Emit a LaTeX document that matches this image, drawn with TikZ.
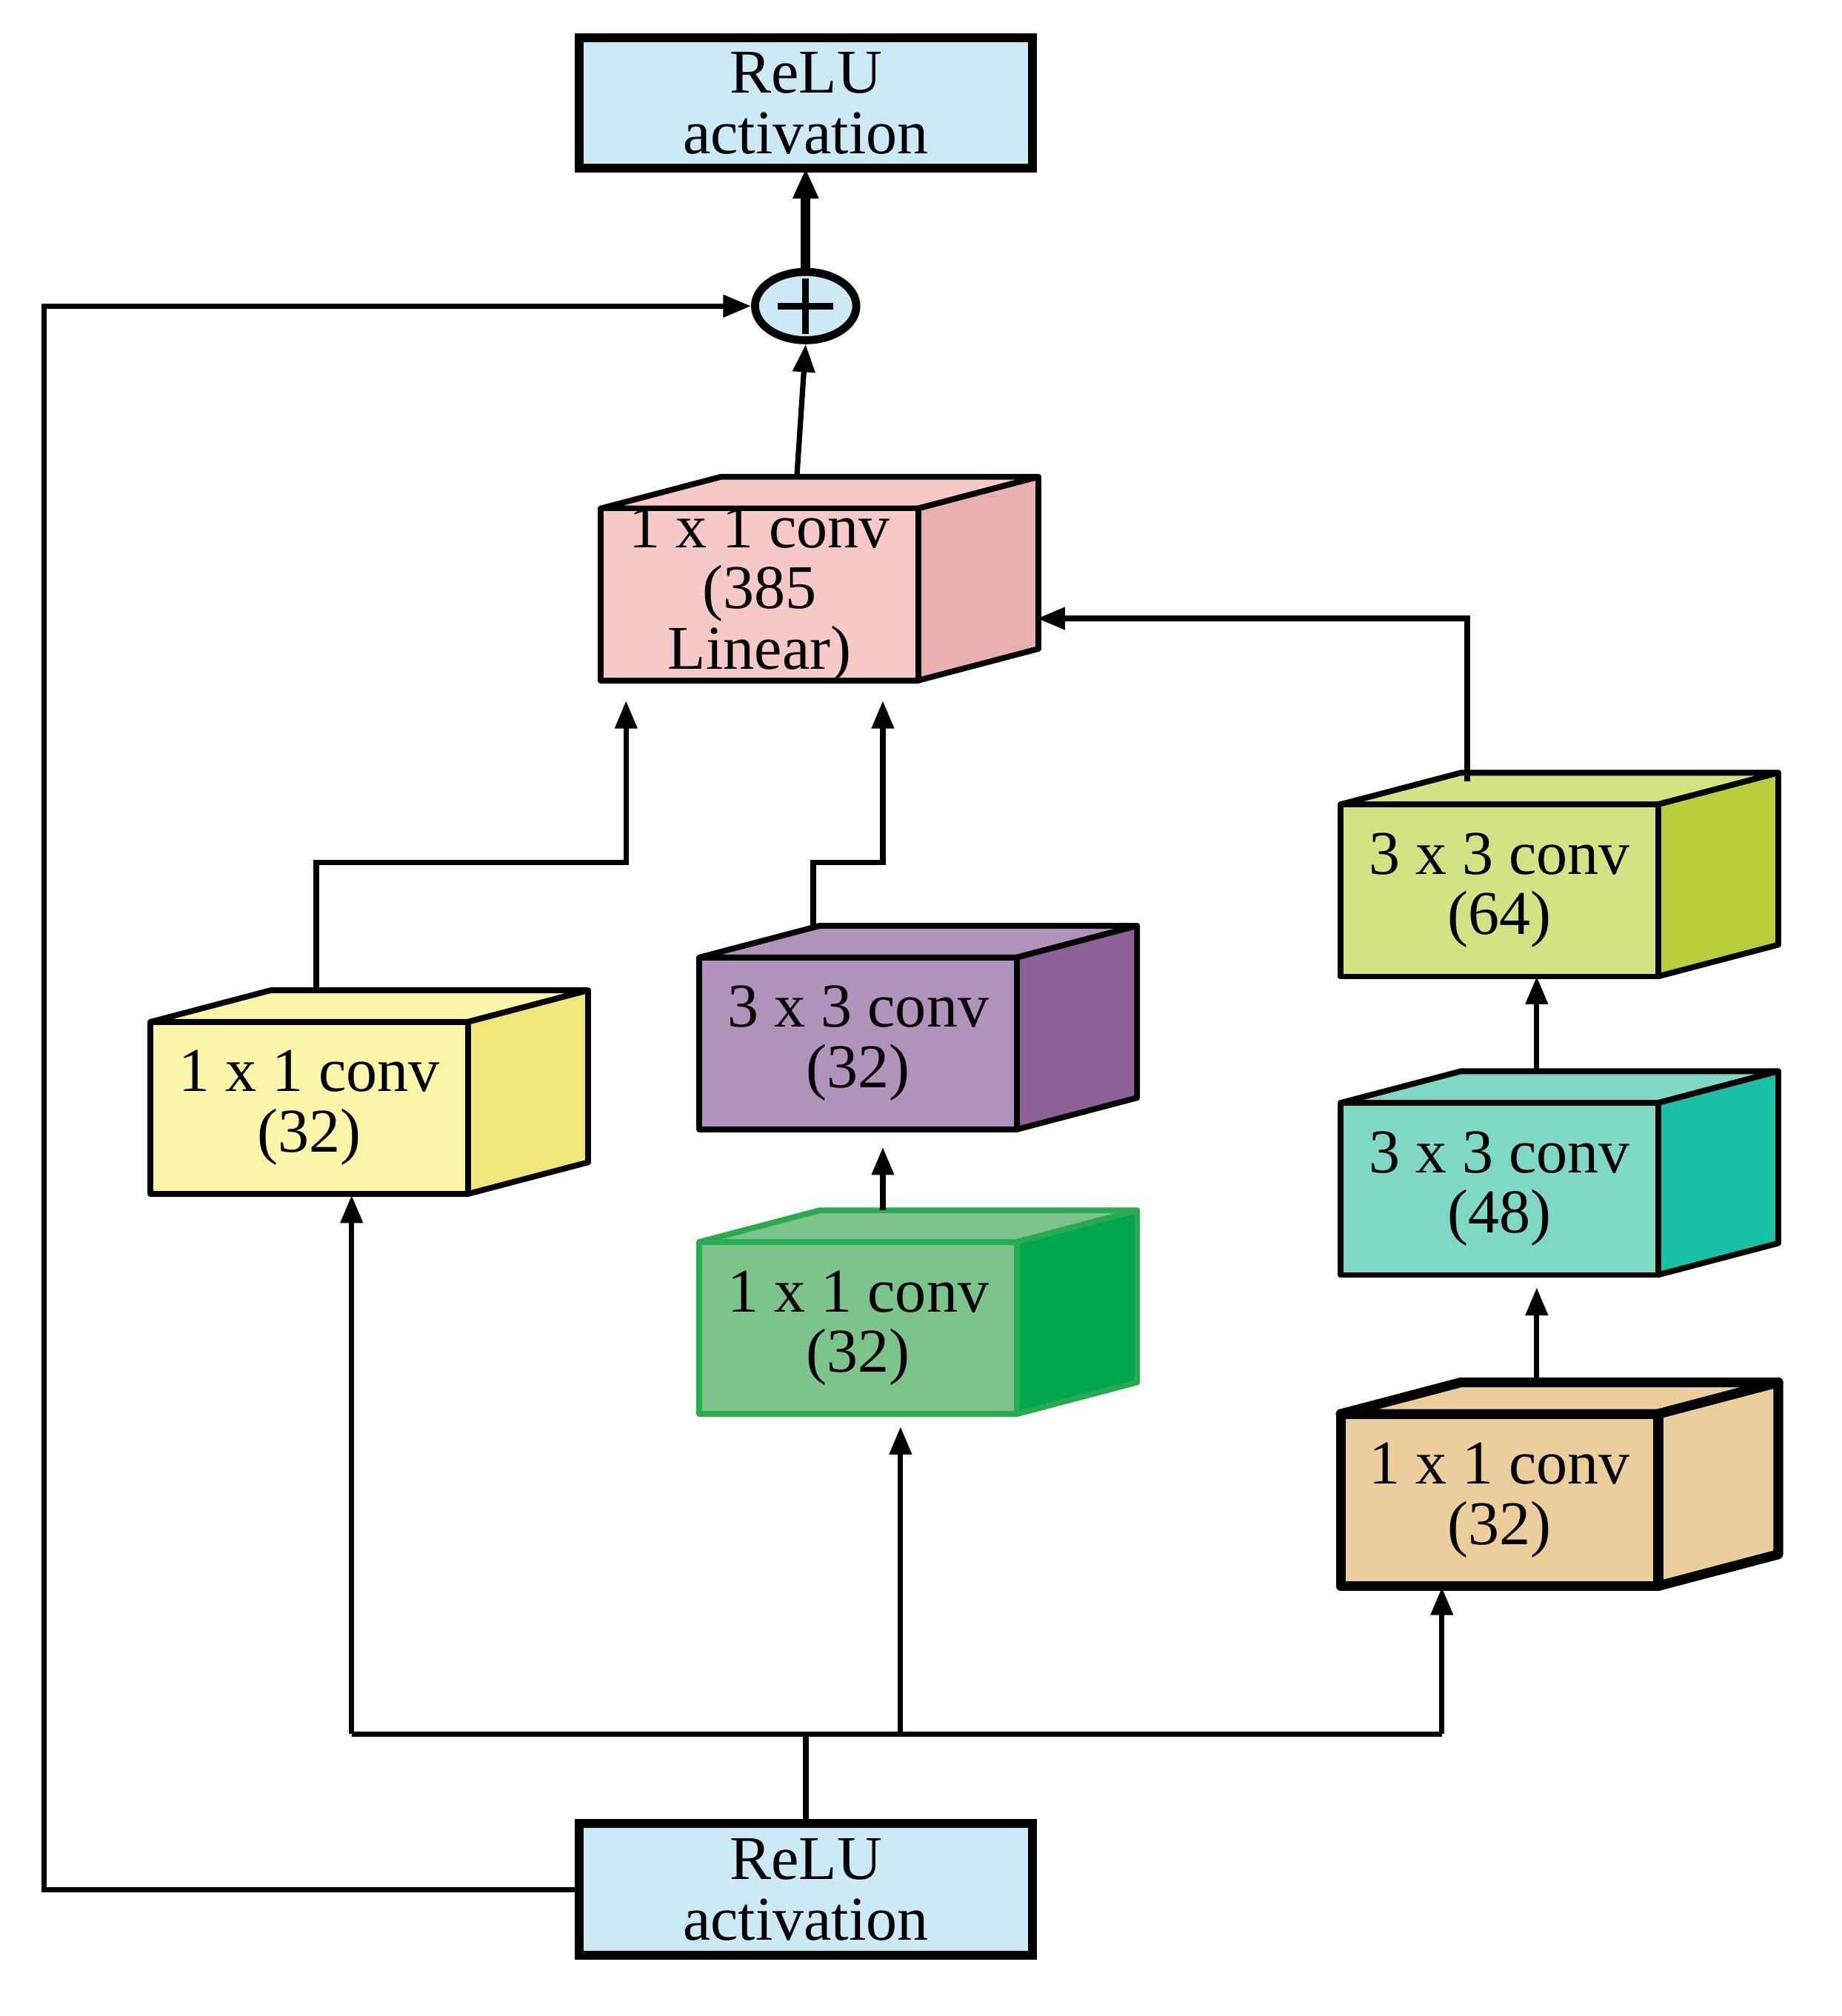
\documentclass[tikz,border=0pt]{standalone}
\usepackage{fontspec}
\setmainfont{Liberation Serif}
\usetikzlibrary{arrows.meta,calc,shapes.geometric}
\definecolor{relu}{RGB}{204,234,246}
\definecolor{pinkF}{RGB}{246,200,200}\definecolor{pinkS}{RGB}{234,176,176}
\definecolor{yelF}{RGB}{252,246,170}\definecolor{yelS}{RGB}{240,230,122}
\definecolor{purF}{RGB}{176,146,186}\definecolor{purS}{RGB}{142,96,152}
\definecolor{grnF}{RGB}{124,196,140}\definecolor{grnS}{RGB}{0,166,78}\definecolor{grnB}{RGB}{40,170,80}
\definecolor{limF}{RGB}{212,226,132}\definecolor{limS}{RGB}{186,206,60}
\definecolor{tealF}{RGB}{126,216,196}\definecolor{tealS}{RGB}{26,192,166}
\definecolor{orgF}{RGB}{236,206,156}\definecolor{orgS}{RGB}{236,206,156}
\tikzset{
  txt/.style={font=\fontsize{14}{13.6}\selectfont, align=center, inner sep=0pt},
  arr/.style={line width=1.2pt,-{Triangle[length=0.22cm,width=0.17cm]}},
  ln/.style={line width=1.2pt},
  edge/.style={line width=1.3pt,line join=round},
}
% name, x, y, front, side, text, border
\newcommand\mycuboid[7]{%
  \filldraw[edge,#7,fill=#4] (#2,#3) -- ++(95,-25) -- ++(251,0) -- ++(-95,25) -- cycle;
  \filldraw[edge,#7,fill=#5] (#2+251,#3) -- ++(95,-25) -- ++(0,136) -- ++(-95,25) -- cycle;
  \node[draw,edge,#7,fill=#4,minimum width=2.51cm,minimum height=1.36cm,anchor=north west,inner sep=0pt,outer sep=0pt] (#1) at (#2,#3) {};
  \node[txt] at (#1.center) {#6};
}
\begin{document}
\begin{tikzpicture}[x=0.01cm,y=-0.01cm]
\useasboundingbox (0,0) rectangle (1456,1594);
% ReLU boxes
\node[draw,line width=2pt,fill=relu,minimum width=3.58cm,minimum height=1.03cm,anchor=north west,inner sep=0pt,outer sep=0pt] (top) at (458,30) {};
\node[txt] at (top.center) {ReLU\\activation};
\node[draw,line width=2pt,fill=relu,minimum width=3.58cm,minimum height=1.04cm,anchor=north west,inner sep=0pt,outer sep=0pt] (bot) at (458,1442) {};
\node[txt] at (bot.center) {ReLU\\activation};
% plus
\node[draw,line width=1.8pt,fill=relu,ellipse,minimum width=0.8cm,minimum height=0.54cm,inner sep=0pt] (plus) at (637,242) {};
\draw[line width=1.5pt] ($(plus.center)+(-22,0)$) -- ($(plus.center)+(22,0)$) ($(plus.center)+(0,-22)$) -- ($(plus.center)+(0,22)$);
% cuboids
\mycuboid{pink}{475}{402}{pinkF}{pinkS}{1 x 1 conv\\(385\\Linear)}{}
\mycuboid{yel}{119}{808}{yelF}{yelS}{1 x 1 conv\\(32)}{}
\mycuboid{pur}{553}{757}{purF}{purS}{3 x 3 conv\\(32)}{}
\mycuboid{grn}{553}{982}{grnF}{grnS}{1 x 1 conv\\(32)}{draw=grnB}
\mycuboid{lim}{1060}{636}{limF}{limS}{3 x 3 conv\\(64)}{}
\mycuboid{teal}{1060}{872}{tealF}{tealS}{3 x 3 conv\\(48)}{}
\mycuboid{org}{1060}{1118}{orgF}{orgS}{1 x 1 conv\\(32)}{line width=2.2pt}
% connectors
\draw[line width=2.2pt,-{Triangle[length=0.24cm,width=0.19cm]}] (plus.north) -- (plus.north |- top.south);
\draw[arr] (630,377) -- (plus.south);
\coordinate (skipL) at (35,242);
\draw[arr] (bot.west) -| (skipL) -- (plus.west);
\coordinate (busL) at (278,1371);
\coordinate (busR) at (1140,1371);
\draw[ln] (bot.north) -- (bot.north |- busL);
\draw[ln] (busL) -- (busR);
\draw[arr] (busL) -- (278,945);
\draw[arr] (712,1371) -- (712,1128);
\draw[arr] (busR) -- (1140,1255);
\draw[arr] (250,783) -- (250,682) -- (495,682) -- (495,554);
\draw[arr] (643,732) -- (643,682) -- (698,682) -- (698,554);
\draw[arr] (1160,618) -- (1160,489) -- (820,489);
\draw[arr] (698,957) -- (698,907);
\draw[arr] (1215,848) -- (1215,772);
\draw[arr] (1215,1090) -- (1215,1018);
\end{tikzpicture}
\end{document}
